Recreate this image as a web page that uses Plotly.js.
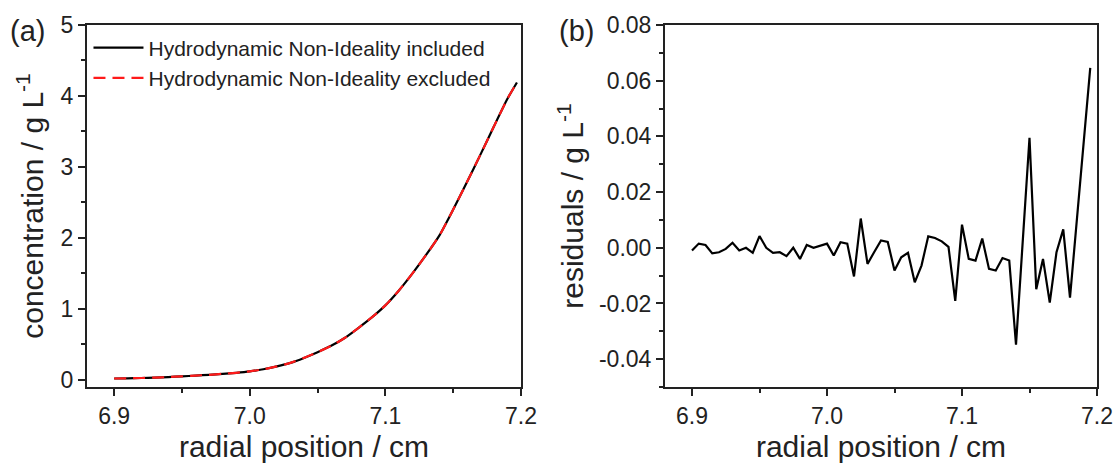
<!DOCTYPE html>
<html>
<head>
<meta charset="utf-8">
<script src="https://cdn.plot.ly/plotly-3.0.1.min.js"></script>
<style>html,body{margin:0;padding:0;background:#fff;}#chart{width:1120px;height:471px;}</style>
</head>
<body>
<div id="chart"></div>
<script>
// ---- data ----
var radialConc = [6.90,6.91,6.92,6.93,6.94,6.95,6.96,6.97,6.98,6.99,7.00,7.01,7.02,7.03,7.04,7.05,7.06,7.07,7.08,7.09,7.10,7.11,7.12,7.13,7.14,7.15,7.16,7.17,7.18,7.19,7.197];
var concIncluded = [0.02,0.022,0.027,0.033,0.04,0.05,0.06,0.072,0.085,0.10,0.12,0.15,0.19,0.24,0.31,0.39,0.48,0.59,0.73,0.88,1.05,1.26,1.50,1.76,2.04,2.40,2.78,3.17,3.57,3.96,4.19];
var concExcluded = [0.02,0.022,0.027,0.033,0.04,0.05,0.06,0.072,0.085,0.10,0.12,0.15,0.19,0.24,0.31,0.39,0.48,0.59,0.73,0.88,1.05,1.26,1.50,1.76,2.04,2.40,2.78,3.17,3.57,3.96,4.19];

var radialRes = [6.900,6.905,6.910,6.915,6.920,6.925,6.930,6.935,6.940,6.945,6.950,6.955,6.960,6.965,6.970,6.975,6.980,6.985,6.990,6.995,7.000,7.005,7.010,7.015,7.020,7.025,7.030,7.035,7.040,7.045,7.050,7.055,7.060,7.065,7.070,7.075,7.080,7.085,7.090,7.095,7.100,7.105,7.110,7.115,7.120,7.125,7.130,7.135,7.140,7.150,7.155,7.160,7.165,7.170,7.175,7.180,7.195];
var residuals = [-0.001,0.0015,0.001,-0.002,-0.0016,-0.0004,0.0018,-0.001,0.0,-0.0018,0.0042,0.0,-0.0018,-0.0016,-0.003,0.0,-0.004,0.001,0.0,0.0008,0.0015,-0.0028,0.002,0.0015,-0.0103,0.0105,-0.0058,-0.0015,0.0026,0.0021,-0.0082,-0.0034,-0.0018,-0.0124,-0.0064,0.0041,0.0035,0.0023,0.0003,-0.0191,0.0083,-0.004,-0.0046,0.0033,-0.0076,-0.0082,-0.0037,-0.0046,-0.0348,0.0395,-0.0149,-0.004,-0.0197,-0.0016,0.0066,-0.0179,0.0646];

var seriesNames = ["Hydrodynamic Non-Ideality included","Hydrodynamic Non-Ideality excluded"];
var xTickLabels = ["6.9","7.0","7.1","7.2"];
var xTickVals = [6.9,7.0,7.1,7.2];
var resTickVals = [-0.04,-0.02,0,0.02,0.04,0.06,0.08];
var resTickLabels = ["-0.04","-0.02","0.00","0.02","0.04","0.06","0.08"];

// ---- styling ----
var FONT = "Liberation Sans, Arial, sans-serif";
var TXT = "#222";

var traces = [
  {x: radialConc, y: concIncluded, type: "scatter", mode: "lines", name: seriesNames[0],
   line: {color: "#000", width: 2.2, shape: "spline", smoothing: 0.6}, xaxis: "x", yaxis: "y"},
  {x: radialConc, y: concExcluded, type: "scatter", mode: "lines", name: seriesNames[1],
   line: {color: "#ff1a1a", width: 2.2, dash: "12px,7px", shape: "spline", smoothing: 0.6}, xaxis: "x", yaxis: "y"},
  {x: radialRes, y: residuals, type: "scatter", mode: "lines", showlegend: false,
   line: {color: "#000", width: 2.2}, xaxis: "x2", yaxis: "y2"}
];

function xAxis(domain, anchor) {
  return {
    domain: domain, anchor: anchor, range: [6.88, 7.2],
    tickmode: "array", tickvals: xTickVals, ticktext: xTickLabels,
    ticks: "outside", ticklen: 7, tickwidth: 2, tickcolor: "#222",
    minor: {tick0: 6.85, dtick: 0.05, ticks: "outside", ticklen: 4, tickwidth: 2, tickcolor: "#222"},
    showline: true, linewidth: 2, linecolor: "#222", mirror: true,
    showgrid: false, zeroline: false,
    tickfont: {family: FONT, size: 23, color: TXT},
    title: {text: "radial position / cm", font: {family: FONT, size: 30, color: TXT}, standoff: 8},
    automargin: false
  };
}

var layout = {
  width: 1120, height: 471,
  paper_bgcolor: "#fff", plot_bgcolor: "#fff",
  margin: {l: 0, r: 0, t: 0, b: 0},
  showlegend: true,
  legend: {x: 0.079, y: 0.9416, xanchor: "left", yanchor: "top", bgcolor: "rgba(0,0,0,0)",
           font: {family: FONT, size: 21, color: TXT}, itemwidth: 50, tracegroupgap: 0},
  xaxis: xAxis([87/1120, 521/1120], "y"),
  xaxis2: xAxis([665/1120, 1097/1120], "y2"),
  yaxis: {
    domain: [1 - 387/471, 1 - 25/471], anchor: "x", range: [-0.1, 5],
    tickmode: "linear", tick0: 0, dtick: 1,
    ticks: "outside", ticklen: 7, tickwidth: 2, tickcolor: "#222",
    minor: {tick0: 0, dtick: 0.5, ticks: "outside", ticklen: 4, tickwidth: 2, tickcolor: "#222"},
    showline: true, linewidth: 2, linecolor: "#222", mirror: true,
    showgrid: false, zeroline: false,
    tickfont: {family: FONT, size: 23, color: TXT},
    title: {text: "concentration / g L<sup>-1</sup>", font: {family: FONT, size: 30, color: TXT}, standoff: 8},
    automargin: false
  },
  yaxis2: {
    domain: [1 - 387/471, 1 - 25/471], anchor: "x2", range: [-0.05, 0.08],
    tickmode: "array", tickvals: resTickVals, ticktext: resTickLabels,
    ticks: "outside", ticklen: 7, tickwidth: 2, tickcolor: "#222",
    minor: {tick0: 0, dtick: 0.01, ticks: "outside", ticklen: 4, tickwidth: 2, tickcolor: "#222"},
    showline: true, linewidth: 2, linecolor: "#222", mirror: true,
    showgrid: false, zeroline: false,
    tickfont: {family: FONT, size: 23, color: TXT},
    title: {text: "residuals / g L<sup>-1</sup>", font: {family: FONT, size: 30, color: TXT}, standoff: 6},
    automargin: false
  },
  annotations: [
    {text: "(a)", x: 8/1120, y: 1 - 31/471, xref: "paper", yref: "paper", xanchor: "left", yanchor: "middle",
     showarrow: false, font: {family: FONT, size: 29, color: TXT}},
    {text: "(b)", x: 557/1120, y: 1 - 31/471, xref: "paper", yref: "paper", xanchor: "left", yanchor: "middle",
     showarrow: false, font: {family: FONT, size: 29, color: TXT}}
  ]
};

Plotly.newPlot("chart", traces, layout, {displayModeBar: false, staticPlot: true});
</script>
</body>
</html>
